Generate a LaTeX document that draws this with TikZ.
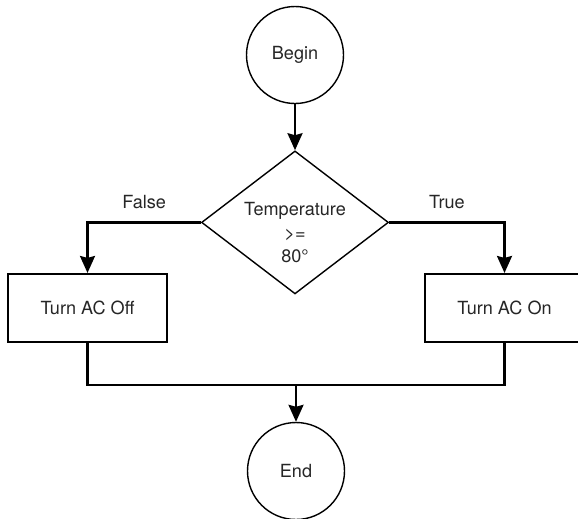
\documentclass[tikz,border=0pt]{standalone}
\usepackage{fontspec}
\setmainfont{TeX Gyre Heros}
\usetikzlibrary{positioning, arrows.meta, shapes.geometric}

\newcommand{\decisiontext}[1]{\raisebox{-9.3pt}[0pt][0pt]{\renewcommand{\arraystretch}{1.1}\begin{tabular}{@{}c@{}}#1\end{tabular}}}

\begin{document}
\begin{tikzpicture}[
    node distance=0.92cm,
    font=\fontsize{10.3}{12}\selectfont,
    text=black!85,
    terminal/.style={
        circle,
        draw,
        line width=0.8pt,
        minimum size=1.94cm,
        inner sep=0pt
    },
    decision/.style={
        diamond,
        draw,
        line width=0.8pt,
        aspect=1.31,
        minimum width=3.74cm,
        minimum height=2.86cm,
        inner sep=0pt
    },
    box/.style={
        rectangle,
        draw,
        line width=1.2pt,
        minimum width=3.18cm,
        minimum height=1.36cm
    },
    line/.style={
        line width=1.3pt
    },
    arrow/.style={
        line,
        -{Stealth[length=0.34cm, width=0.3cm, inset=0.04cm]}
    },
    branch/.style={
        above=4pt
    }
]
\useasboundingbox (0,0) rectangle (11.56,-10.36);

\node[terminal] (begin) at (5.9,-1.1) {Begin};
\node[decision, below=of begin] (temp) {\decisiontext{Temperature\\>=\\80°}};
\node[box] (acoff) at (1.75,-6.16) {Turn AC Off};
\node[box] (acon) at (10.09,-6.16) {Turn AC On};
\node[terminal] (stop) at (5.92,-9.42) {End};
\coordinate[above=0.74cm of stop.north] (merge);

\draw[arrow] (begin) -- (temp);
\draw[arrow] (temp.west) -| node[branch, pos=0.25] {False} (acoff.north);
\draw[arrow] (temp.east) -| node[branch, pos=0.25] {True} (acon.north);

% Zusammenfuehrung der Zweige
\draw[line] (acoff.south) |- (merge) -| (acon.south);
\draw[arrow] (merge) -- (stop);

\end{tikzpicture}
\end{document}
